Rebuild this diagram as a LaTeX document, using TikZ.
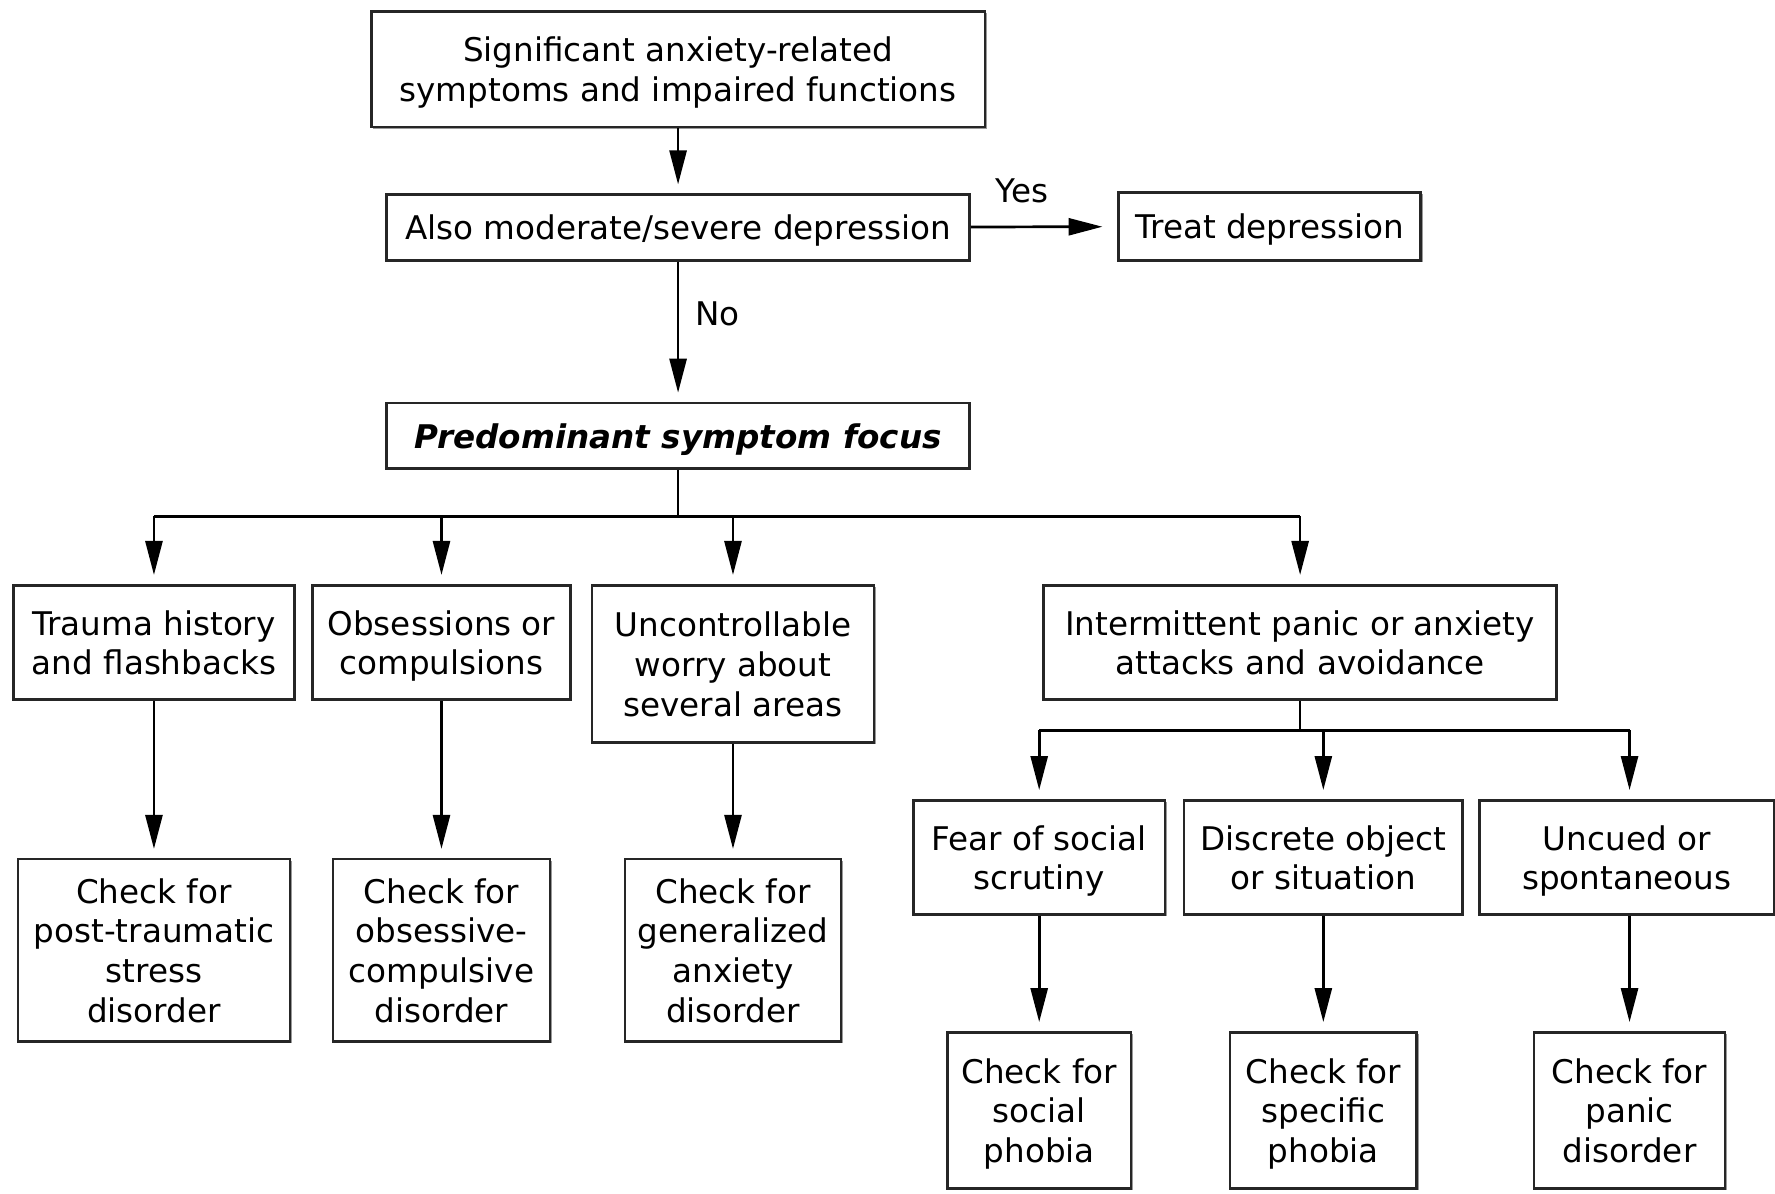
\documentclass[tikz,border=0pt]{standalone}
\usepackage{fontspec}
\setmainfont{DejaVu Sans}
\usetikzlibrary{arrows.meta,shadows}
\newcommand\mlines[1]{\raisebox{-2pt}[\height][\depth]{\begin{tabular}{@{}c@{}}#1\end{tabular}}}
\begin{document}
\begin{tikzpicture}[x=0.5pt,y=-0.5pt,
  box/.style={draw=black!85, line width=1.1pt, fill=white, inner sep=0pt,
    font=\fontsize{14.4}{17.5}\selectfont,
    drop shadow={shadow xshift=0.8pt, shadow yshift=-0.8pt, fill=black!40, opacity=1}},
  arr/.style={line width=1.2pt, -{Triangle[length=15pt,width=7.5pt]}, shorten >=4pt},
  ln/.style={line width=1.2pt},
  lbl/.style={font=\fontsize{14.4}{17.5}\selectfont, inner sep=0pt}]
\useasboundingbox[fill=white] (0,0) rectangle (1568,1054);

\node[box, minimum width=271pt, minimum height=51pt] (top) at (599,61)
  {\mlines{Significant anxiety-related\\symptoms and impaired functions}};
\node[box, minimum width=257.5pt, minimum height=29pt] (also) at (599,201)
  {\mlines{Also moderate/severe depression}};
\node[box, minimum width=133.5pt, minimum height=30pt] (treat) at (1121.5,200)
  {\mlines{Treat depression}};
\node[box, minimum width=257.5pt, minimum height=29pt, font=\fontsize{14.4}{17.5}\selectfont\bfseries\itshape] (pred) at (599,385)
  {\mlines{Predominant symptom focus}};

\node[box, minimum width=124pt, minimum height=50.5pt] (trauma) at (136,567.5)
  {\mlines{Trauma history\\and flashbacks}};
\node[box, minimum width=114pt, minimum height=50.5pt] (obs) at (390,567.5)
  {\mlines{Obsessions or\\compulsions}};
\node[box, minimum width=124.5pt, minimum height=69.5pt] (unc) at (647.5,586.5)
  {\mlines{Uncontrollable\\worry about\\several areas}};
\node[box, minimum width=226.5pt, minimum height=50.5pt] (inter) at (1148.5,567.5)
  {\mlines{Intermittent panic or anxiety\\attacks and avoidance}};

\node[box, minimum width=120pt, minimum height=80.5pt] (cptsd) at (136,839.5)
  {\mlines{Check for\\post-traumatic\\stress\\disorder}};
\node[box, minimum width=96pt, minimum height=80.5pt] (cocd) at (390,839.5)
  {\mlines{Check for\\obsessive-\\compulsive\\disorder}};
\node[box, minimum width=95.5pt, minimum height=80.5pt] (cgad) at (647.5,839.5)
  {\mlines{Check for\\generalized\\anxiety\\disorder}};

\node[box, minimum width=111pt, minimum height=50.5pt] (fear) at (918,757.5)
  {\mlines{Fear of social\\scrutiny}};
\node[box, minimum width=123pt, minimum height=50.5pt] (disc) at (1169,757.5)
  {\mlines{Discrete object\\or situation}};
\node[box, minimum width=130pt, minimum height=50.5pt] (uncued) at (1437,757.5)
  {\mlines{Uncued or\\spontaneous}};

\node[box, minimum width=81pt, minimum height=69pt] (csoc) at (918,981)
  {\mlines{Check for\\social\\phobia}};
\node[box, minimum width=82.5pt, minimum height=69pt] (cspec) at (1169,981)
  {\mlines{Check for\\specific\\phobia}};
\node[box, minimum width=84.5pt, minimum height=69pt] (cpan) at (1439.5,981)
  {\mlines{Check for\\panic\\disorder}};

\node[lbl] (yes) at (903,169) {Yes};
\node[lbl] (no) at (634,277) {No};

\draw[arr] (top) -- (also);
\draw[arr, shorten >=6.5pt] (also) -- (treat);
\draw[arr] (also) -- (pred);

\coordinate (b1) at (599,456);
\draw[ln] (pred) -- (b1);
\draw[ln] (trauma.north |- b1) -- (inter.north |- b1);
\draw[arr] (trauma.north |- b1) -- (trauma);
\draw[arr] (obs.north |- b1) -- (obs);
\draw[arr] (unc.north |- b1) -- (unc);
\draw[arr] (inter.north |- b1) -- (inter);

\draw[arr] (trauma) -- (cptsd);
\draw[arr] (obs) -- (cocd);
\draw[arr] (unc) -- (cgad);

\coordinate (b2) at (1148.5,645);
\draw[ln] (inter) -- (b2);
\draw[ln] (fear.north |- b2) -- (cpan.north |- b2);
\draw[arr] (fear.north |- b2) -- (fear);
\draw[arr] (disc.north |- b2) -- (disc);
\draw[arr] (cpan.north |- b2) -- (cpan.north |- uncued.north);

\draw[arr] (fear) -- (csoc);
\draw[arr] (disc) -- (cspec);
\draw[arr] (cpan.north |- uncued.south) -- (cpan);
\end{tikzpicture}
\end{document}
